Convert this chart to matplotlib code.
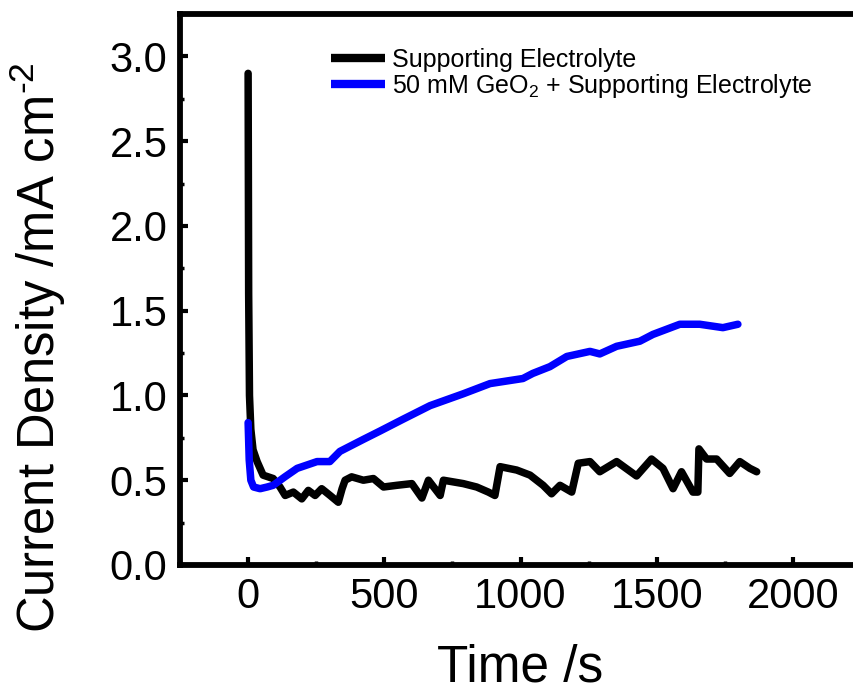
import matplotlib
matplotlib.use("Agg")
import matplotlib.pyplot as plt
from matplotlib.ticker import MultipleLocator

plt.rcParams["font.family"] = ["Liberation Sans", "DejaVu Sans"]
plt.rcParams["mathtext.fontset"] = "custom"
plt.rcParams["mathtext.rm"] = "Liberation Sans"
plt.rcParams["mathtext.it"] = "Liberation Sans:italic"
plt.rcParams["mathtext.bf"] = "Liberation Sans:bold"

# Chronoamperometry: supporting electrolyte alone
t_se = [0, 2, 5, 10, 18, 33, 55, 92, 117, 136, 166, 197, 221, 246, 270, 301, 331, 345,
        356, 380, 423, 460, 497, 546, 601, 638, 662, 705, 717, 790, 839, 882, 906, 925,
        986, 1035, 1083, 1114, 1145, 1188, 1212, 1255, 1291, 1353, 1426, 1481, 1523,
        1560, 1591, 1633, 1651, 1655, 1683, 1720, 1768, 1805, 1842, 1867]
j_se = [2.90, 1.60, 1.00, 0.80, 0.68, 0.61, 0.53, 0.51, 0.46, 0.41, 0.43, 0.39, 0.44,
        0.41, 0.45, 0.41, 0.37, 0.45, 0.50, 0.52, 0.50, 0.51, 0.46, 0.47, 0.48, 0.395,
        0.50, 0.41, 0.50, 0.48, 0.46, 0.43, 0.41, 0.58, 0.56, 0.53, 0.47, 0.42, 0.47,
        0.43, 0.60, 0.61, 0.55, 0.61, 0.525, 0.625, 0.57, 0.45, 0.55, 0.43, 0.43,
        0.685, 0.625, 0.625, 0.54, 0.61, 0.57, 0.55]

# Chronoamperometry: 50 mM GeO2 + supporting electrolyte
t_ge = [0, 4, 10, 20, 44, 70, 92, 135, 180, 253, 300, 337, 422, 484, 569, 668, 790,
        888, 1009, 1045, 1108, 1170, 1255, 1291, 1353, 1438, 1486, 1585, 1658, 1743, 1798]
j_ge = [0.84, 0.62, 0.50, 0.46, 0.45, 0.46, 0.47, 0.52, 0.57, 0.61, 0.61, 0.67, 0.74,
        0.79, 0.86, 0.94, 1.01, 1.07, 1.10, 1.13, 1.17, 1.23, 1.26, 1.245, 1.29, 1.32,
        1.36, 1.42, 1.42, 1.40, 1.42]

labels = ["Supporting Electrolyte", "50 mM GeO$_2$ + Supporting Electrolyte"]
x_ticks = [0, 500, 1000, 1500, 2000]
y_ticks = [0.0, 0.5, 1.0, 1.5, 2.0, 2.5, 3.0]

fig = plt.figure(figsize=(8.54, 6.94), dpi=100)
ax = fig.add_axes([0.2108, 0.1859, 0.7974, 0.7939])

ax.plot(t_se, j_se, color="black", lw=5.4, solid_capstyle="round",
        solid_joinstyle="round", label=labels[0])
ax.plot(t_ge, j_ge, color="#0000ff", lw=5.4, solid_capstyle="round",
        solid_joinstyle="round", label=labels[1])

ax.set_xlim(-250, 2250)
ax.set_ylim(0, 3.25)
ax.set_xticks(x_ticks)
ax.set_xticklabels([str(v) for v in x_ticks])
ax.set_yticks(y_ticks)
ax.set_yticklabels([f"{v:.1f}" for v in y_ticks])
ax.xaxis.set_minor_locator(MultipleLocator(250))
ax.yaxis.set_minor_locator(MultipleLocator(0.25))

for s in ax.spines.values():
    s.set_linewidth(4.2)
ax.spines["right"].set_visible(False)

ax.tick_params(which="major", direction="in", length=6, width=3, labelsize=30, pad=9,
               top=False, right=False)
ax.tick_params(which="minor", direction="in", length=3, width=2.5, top=False, right=False)

ax.set_xlabel("Time /s", fontsize=37, labelpad=19)
ax.set_ylabel("Current Density /mA cm$^{\u2010 2}$", fontsize=36.5)
ax.yaxis.set_label_coords(-0.165, 0.395)

leg = ax.legend(loc="upper left", bbox_to_anchor=(0.3876, 0.931),
                bbox_transform=fig.transFigure, frameon=False, fontsize=18,
                handlelength=2.15, handletextpad=0.3, labelspacing=0.0,
                borderpad=0, borderaxespad=0)
for h in leg.get_lines():
    h.set_linewidth(6)
    h.set_solid_capstyle("butt")

fig.savefig("out.png", dpi=100)
